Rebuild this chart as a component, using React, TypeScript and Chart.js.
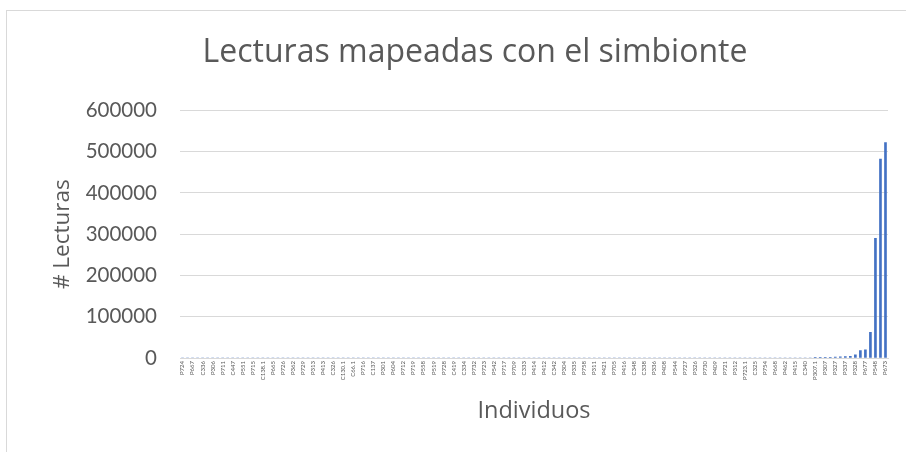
import React, { useEffect, useRef } from "react";
import { Chart, registerables } from "chart.js";

Chart.register(...registerables);

const chartTitle = "Lecturas mapeadas con el simbionte";
const xAxisTitle = "Individuos";
const yAxisTitle = "# Lecturas";

// Readable (every other) category labels, left to right
const visibleLabels = [
  "P724", "P667", "C336", "P306", "P711", "C447", "P551", "P715", "C138.1", "P665",
  "P726", "P362", "P729", "P313", "P413", "C326", "C130.1", "C66.1", "P716", "C137",
  "P301", "P604", "P712", "P719", "P558", "P519", "P728", "C419", "C334", "P732",
  "P723", "P542", "P717", "P709", "C333", "P414", "P412", "C342", "P304", "P335",
  "P758", "P311", "P421", "P705", "P416", "C348", "C338", "P336", "P408", "P544",
  "P727", "P326", "P730", "P409", "P721", "P312", "P723.1", "C325", "P754", "P668",
  "P462", "P415", "C340", "P307.1", "P307", "P327", "P337", "P328", "P677", "P548",
  "P673",
];

// Reads per individual (141 categories)
const readCounts = [
  0, 0, 0, 0, 0, 0, 0, 0, 0, 0, 0, 0, 0, 0, 0, 0, 0, 0, 0, 0,
  0, 0, 0, 0, 0, 0, 0, 0, 0, 0, 0, 0, 0, 0, 0, 0, 0, 0, 0, 0,
  0, 0, 0, 0, 0, 0, 0, 0, 0, 0, 0, 0, 0, 0, 0, 0, 0, 0, 0, 0,
  0, 0, 0, 0, 0, 0, 0, 0, 0, 0, 0, 0, 0, 0, 0, 0, 0, 0, 0, 0,
  0, 0, 0, 0, 0, 0, 0, 0, 0, 0, 0, 0, 0, 0, 0, 0, 0, 0, 0, 0,
  0, 0, 0, 0, 0, 0, 0, 0, 0, 0, 0, 0, 0, 0, 0, 0, 0, 0, 0, 0,
  0, 0, 0, 0, 0, 0, 200, 400, 800, 1500, 2500, 3000, 3500, 4000, 7500, 18000,
  20000, 62000, 290000, 482000, 522000,
];

const yTicks = [0, 100000, 200000, 300000, 400000, 500000, 600000];

// Category list: readable labels interleaved with unlabeled categories
const categories: string[] = visibleLabels.flatMap((l, i) =>
  i < visibleLabels.length - 1 ? [l, ""] : [l]
);

const TEXT = "#595959";
const GRID = "#d9d9d9";
const FONT = "Lato";
const TITLE_FONT = "'Open Sans'";

export default function App() {
  const ref = useRef<HTMLCanvasElement>(null);
  useEffect(() => {
    if (!ref.current) return;
    const chart = new Chart(ref.current, {
      type: "bar",
      data: {
        labels: categories,
        datasets: [
          {
            data: readCounts,
            backgroundColor: "#4472C4",
            barThickness: 2,
          },
        ],
      },
      options: {
        animation: false,
        responsive: false,
        maintainAspectRatio: false,
        layout: { padding: { left: 62, right: 18, top: 0, bottom: 0 } },
        plugins: {
          legend: { display: false },
          tooltip: { enabled: false },
          title: {
            display: true,
            text: chartTitle,
            color: TEXT,
            font: { family: TITLE_FONT, size: 32, weight: "normal" },
            padding: { top: 34, bottom: 38 },
          },
        },
        scales: {
          x: {
            grid: { display: false, drawTicks: false },
            border: { display: true, color: GRID },
            afterFit: (s: any) => {
              s.height = 94;
            },
            ticks: {
              autoSkip: false,
              maxRotation: 90,
              minRotation: 90,
              padding: 3,
              color: TEXT,
              font: { family: FONT, size: 6 },
              callback: (_v: any, i: number) => categories[i],
            },
            title: {
              display: true,
              text: xAxisTitle,
              color: TEXT,
              font: { family: TITLE_FONT, size: 23.5 },
              padding: { top: 4, bottom: 27 },
            },
          },
          y: {
            min: 0,
            max: 600000,
            afterFit: (s: any) => {
              s.width = 118;
            },
            afterBuildTicks: (s: any) => {
              s.ticks = yTicks.map((v) => ({ value: v }));
            },
            grid: { color: GRID, drawTicks: false },
            border: { display: false },
            ticks: {
              padding: 23,
              color: TEXT,
              font: { family: FONT, size: 20.5 },
              callback: (v: any) => String(v),
            },
            title: {
              display: true,
              text: yAxisTitle,
              color: TEXT,
              font: { family: TITLE_FONT, size: 22.5 },
              padding: { top: -13, bottom: 0 },
            },
          },
        },
      },
    });
    return () => chart.destroy();
  }, []);

  return (
    <div
      style={{
        position: "fixed",
        left: 0,
        top: 0,
        width: 906,
        height: 452,
        overflow: "hidden",
        background: "#fff",
      }}
    >
      <div
        style={{
          position: "absolute",
          left: 6,
          top: 10,
          width: 1000,
          height: 1000,
          border: "1px solid #d9d9d9",
        }}
      />
      <canvas
        ref={ref}
        width={906}
        height={452}
        style={{ position: "absolute", left: 0, top: 0 }}
      />
    </div>
  );
}
